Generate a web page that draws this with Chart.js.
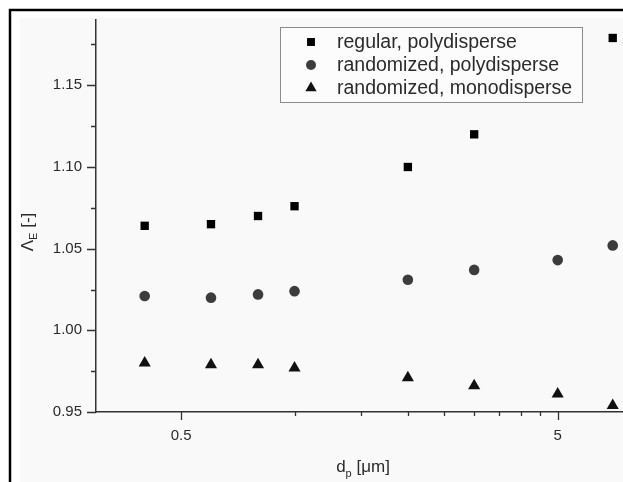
<!DOCTYPE html>
<html>
<head>
<meta charset="utf-8">
<script src="https://cdn.jsdelivr.net/npm/chart.js@4/dist/chart.umd.min.js"></script>
<style>
  html, body { margin: 0; padding: 0; background: #fff; overflow: hidden; }
  #wrap { width: 631px; height: 482px; position: relative; }
</style>
</head>
<body>
<div id="wrap"><canvas id="mycanvas"></canvas></div>
<script>
// particle diameter d_p [um]
var diameters = [0.4, 0.6, 0.8, 1.0, 2.0, 3.0, 5.0, 7.0];
// Lambda_E per configuration (null = no point)
var regularPoly = [1.064, 1.065, 1.070, 1.076, 1.100, 1.120, null, 1.179];
var randomPoly  = [1.021, 1.020, 1.022, 1.024, 1.031, 1.037, 1.043, 1.052];
var randomMono  = [0.980, 0.979, 0.979, 0.977, 0.971, 0.966, 0.961, 0.954];

var seriesLabels = ["regular, polydisperse", "randomized, polydisperse", "randomized, monodisperse"];

var xMajor = [0.5, 5];
var xMajorLabels = ["0.5", "5"];
var xMinor = [1, 1.5, 2, 2.5, 3, 3.5, 4, 4.5];
var yMajor = [0.95, 1.00, 1.05, 1.10, 1.15];
var yMajorLabels = ["0.95", "1.00", "1.05", "1.10", "1.15"];
var yMinor = [0.975, 1.025, 1.075, 1.125, 1.175];

var FONT = "'Liberation Sans', Arial, Helvetica, sans-serif";
var TEXT = "#2b2b2b";
var AXIS = "#333";

function points(ys) {
  var out = [];
  for (var i in ys) {
    if (ys[i] !== null) out.push({x: diameters[i], y: ys[i]});
  }
  return out;
}

function labelFor(v, major, labels) {
  for (var i = 0; i < major.length; i++) {
    if (Math.abs(major[i] - v) < 1e-6) return labels[i];
  }
  return "";
}

function drawMarker(ctx, style, x, y, r, color) {
  ctx.save();
  ctx.fillStyle = color;
  ctx.beginPath();
  if (style === "rect") {
    var s = r * Math.SQRT1_2;
    ctx.rect(x - s, y - s, 2 * s, 2 * s);
  } else if (style === "circle") {
    ctx.arc(x, y, r, 0, Math.PI * 2);
  } else {
    ctx.moveTo(x, y - r);
    ctx.lineTo(x + r * Math.sin(Math.PI * 2 / 3), y + r / 2);
    ctx.lineTo(x - r * Math.sin(Math.PI * 2 / 3), y + r / 2);
    ctx.closePath();
  }
  ctx.fill();
  ctx.restore();
}

// frame, tick marks, boxed legend and axis titles with subscripts
var decor = {
  id: "decor",
  beforeDraw: function(chart) {
    var ctx = chart.ctx;
    ctx.save();
    ctx.fillStyle = "#ffffff";
    ctx.fillRect(0, 0, chart.width, chart.height);
    ctx.fillStyle = "#f9f9f9";
    ctx.fillRect(20, 18, chart.width, chart.height);
    ctx.strokeStyle = "#000";
    ctx.lineWidth = 2.5;
    ctx.beginPath();
    ctx.moveTo(10, chart.height);
    ctx.lineTo(10, 10);
    ctx.lineTo(chart.width, 10);
    ctx.stroke();
    ctx.restore();
  },
  afterDatasetsDraw: function(chart) {
    var ctx = chart.ctx;
    ctx.save();
    ctx.fillStyle = "#fcfcfc";
    ctx.fillRect(280, 27, 302, 75);
    ctx.strokeStyle = "#8c8c8c";
    ctx.lineWidth = 1;
    ctx.strokeRect(280.5, 27.5, 302, 75);
    ctx.font = "19.5px " + FONT;
    ctx.textBaseline = "middle";
    var rows = [42, 65, 88];
    chart.data.datasets.forEach(function(ds, i) {
      drawMarker(ctx, ds.pointStyle, 311, rows[i], ds.pointStyle === "triangle" ? 6.5 : (ds.pointStyle === "rect" ? 5.6 : 5), ds.backgroundColor);
      ctx.fillStyle = TEXT;
      ctx.fillText(ds.label, 337, rows[i] + 1);
    });
    ctx.restore();
  },
  afterDraw: function(chart) {
    var ctx = chart.ctx;
    var xs = chart.scales.x, ys = chart.scales.y;
    var area = chart.chartArea;
    ctx.save();
    ctx.strokeStyle = AXIS;
    ctx.lineWidth = 1.3;
    ctx.beginPath();
    xs.ticks.forEach(function(t) {
      var px = Math.round(xs.getPixelForValue(t.value)) + 0.5;
      var len = xMajor.indexOf(t.value) >= 0 ? 8 : 4;
      ctx.moveTo(px, area.bottom);
      ctx.lineTo(px, area.bottom + len);
    });
    ys.ticks.forEach(function(t) {
      var py = Math.round(ys.getPixelForValue(t.value)) + 0.5;
      var len = labelFor(t.value, yMajor, yMajorLabels) ? 9 : 5;
      ctx.moveTo(area.left, py);
      ctx.lineTo(area.left - len, py);
    });
    ctx.stroke();

    // x title: d_p [um]
    ctx.fillStyle = TEXT;
    ctx.textBaseline = "alphabetic";
    ctx.font = "17px " + FONT;
    var cx = 363, by = 472;
    var w1 = ctx.measureText("d").width;
    ctx.font = "11px " + FONT;
    var w2 = ctx.measureText("p").width;
    ctx.font = "17px " + FONT;
    var w3 = ctx.measureText(" [\u03bcm]").width;
    var sx = cx - (w1 + w2 + w3) / 2;
    ctx.fillText("d", sx, by);
    ctx.font = "11px " + FONT;
    ctx.fillText("p", sx + w1, by + 5);
    ctx.font = "17px " + FONT;
    ctx.fillText(" [\u03bcm]", sx + w1 + w2, by);

    // y title: Lambda_E [-]
    ctx.translate(33, 232);
    ctx.rotate(-Math.PI / 2);
    ctx.font = "17px " + FONT;
    var a1 = ctx.measureText("\u039b").width;
    ctx.font = "11px " + FONT;
    var a2 = ctx.measureText("E").width;
    ctx.font = "17px " + FONT;
    var a3 = ctx.measureText(" [-]").width;
    var s0 = -(a1 + a2 + a3) / 2;
    ctx.fillText("\u039b", s0, 0);
    ctx.font = "11px " + FONT;
    ctx.fillText("E", s0 + a1, 4);
    ctx.font = "17px " + FONT;
    ctx.fillText(" [-]", s0 + a1 + a2, 0);
    ctx.restore();
  }
};

var chartdata = {
  datasets: [
    {
      label: seriesLabels[0],
      data: points(regularPoly),
      pointStyle: "rect",
      pointRadius: 5.9,
      backgroundColor: "#000000",
      borderWidth: 0
    },
    {
      label: seriesLabels[1],
      data: points(randomPoly),
      pointStyle: "circle",
      pointRadius: 5.3,
      backgroundColor: "#3c3c3c",
      borderWidth: 0
    },
    {
      label: seriesLabels[2],
      data: points(randomMono),
      pointStyle: "triangle",
      pointRadius: 7,
      backgroundColor: "#111111",
      borderWidth: 0
    }
  ]
};

var ctx = document.getElementById("mycanvas");

var ScatterGraph = new Chart(ctx, {
  type: "scatter",
  data: chartdata,
  plugins: [decor],
  options: {
    responsive: true,
    maintainAspectRatio: false,
    animation: false,
    clip: false,
    layout: { padding: { top: 20, left: 0, right: 0, bottom: 0 } },
    plugins: {
      legend: { display: false },
      tooltip: { enabled: false }
    },
    scales: {
      x: {
        type: "logarithmic",
        min: 0.297,
        max: 7.5,
        afterBuildTicks: function(scale) {
          scale.ticks = xMajor.concat(xMinor).sort(function(a, b) { return a - b; })
            .map(function(v) { return {value: v}; });
        },
        afterFit: function(scale) {
          scale.height = 70;
        },
        grid: { display: false, drawTicks: false },
        border: { display: true, color: AXIS, width: 1.5 },
        ticks: {
          autoSkip: false,
          maxRotation: 0,
          padding: 15,
          color: TEXT,
          font: { family: FONT, size: 15 },
          callback: function(v) { return labelFor(v, xMajor, xMajorLabels); }
        }
      },
      y: {
        min: 0.95,
        max: 1.19,
        afterBuildTicks: function(scale) {
          scale.ticks = yMajor.concat(yMinor).sort(function(a, b) { return a - b; })
            .map(function(v) { return {value: v}; });
        },
        afterFit: function(scale) {
          scale.width = 96;
          scale.paddingTop = 0;
          scale.paddingBottom = 0;
        },
        grid: { display: false, drawTicks: false },
        border: { display: true, color: AXIS, width: 1.5 },
        ticks: {
          autoSkip: false,
          padding: 14,
          color: TEXT,
          font: { family: FONT, size: 15 },
          callback: function(v) { return labelFor(v, yMajor, yMajorLabels); }
        }
      }
    }
  }
});
</script>
</body>
</html>
